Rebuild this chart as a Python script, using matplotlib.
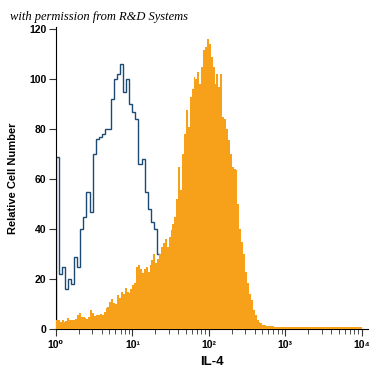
import numpy as np
import matplotlib
matplotlib.use("Agg")
import matplotlib.pyplot as plt

# bin edges in log10 units
edges_ctrl = np.linspace(0, 4, 101)   # 0.04 decade bins
edges_il4 = np.linspace(0, 4, 161)    # 0.025 decade bins

# isotype control (outline)
control = [69, 22, 25, 16, 20, 18, 29, 25, 40, 45,
           55, 47, 70, 76, 77, 78, 80, 80, 92, 100,
           102, 106, 95, 100, 90, 87, 84, 66, 68, 55,
           48, 43, 40, 30, 26, 18, 9, 3]

# IL-4 stained (filled)
il4 = [3.5, 3.6, 3, 3.5, 3, 3.4, 4.3, 3.8, 3.5, 3.6,
       4, 5.5, 6.4, 5, 4.8, 4.5, 4.2, 5, 7.6, 6.5,
       5.2, 5.7, 5.5, 6, 5.6, 7, 8.4, 9, 11, 12,
       10.5, 10, 13.6, 12.5, 15, 14, 16.4, 15, 14.5, 16,
       17.6, 18.5, 25, 25.6, 24, 22.4, 24, 25, 22.8, 25.5,
       27.6, 30, 26.4, 28, 30, 33, 34.5, 36, 33, 37,
       39.6, 42, 45, 52, 65, 55.6, 70, 78, 87.6, 81,
       93, 96, 101, 100, 103, 98, 105, 111.6, 113, 116,
       114, 109, 105, 98, 102, 97, 102, 85, 84, 80,
       75.6, 70, 65, 64, 63.6, 50, 40, 35, 30, 23,
       18.4, 14, 11.6, 7.5, 5.5, 3.6, 3, 2.2, 1.6, 1.4,
       1.2, 1.1, 1, 1, 0.9, 0.9, 0.8, 0.9, 0.8, 0.8,
       0.7, 0.8, 0.8, 0.7, 0.8, 0.8, 0.7, 0.8, 0.8, 0.8,
       0.7, 0.8, 0.7, 0.8, 0.8, 0.7, 0.8, 0.8, 0.7, 0.8,
       0.8, 0.7, 0.8, 0.8, 0.7, 0.8, 0.8, 0.7, 0.8, 0.8,
       0.7, 0.8, 0.8, 0.7, 0.8, 0.8, 0.7, 0.8, 0.8, 0.7]

yticks = [0, 20, 40, 60, 80, 100, 120]
xticks = [1, 10, 100, 1000, 10000]
xticklabels = ["10⁰", "10¹", "10²", "10³", "10⁴"]

fam = ["Liberation Sans Narrow", "Liberation Sans", "DejaVu Sans"]

fig = plt.figure(figsize=(3.75, 3.75), dpi=100)
ax = fig.add_axes([0.149, 0.1227, 0.832, 0.8053])

ax.stairs(control, 10 ** edges_ctrl[:len(control) + 1], color="#1d4a72", lw=1.0, zorder=2)
ax.stairs(il4, 10 ** edges_il4, fill=True, color="#F7A11A", lw=0, zorder=3)

ax.set_xscale("log")
ax.set_xlim(1, 10 ** 4.08)
ax.set_ylim(0, 121)

ax.spines["top"].set_visible(False)
ax.spines["right"].set_visible(False)

ax.set_yticks(yticks)
ax.set_yticklabels([str(v) for v in yticks], family=fam, fontweight="bold", fontsize=7.5)
ax.set_xticks(xticks)
ax.set_xticklabels(xticklabels, family=fam, fontweight="bold", fontsize=7.5)
ax.tick_params(axis="y", length=5, width=0.8, pad=2, color="#333333")
ax.tick_params(axis="x", which="major", length=5, width=0.8, pad=3, color="#333333")
ax.tick_params(axis="x", which="minor", length=3.5, width=0.6, color="#333333")

ax.set_xlabel("IL-4", family=fam, fontweight="bold", fontsize=9.5, labelpad=4)
ax.set_ylabel("Relative Cell Number", family=fam, fontweight="bold", fontsize=8, labelpad=8)

fig.text(0.027, 0.955, "with permission from R&D Systems", family="Liberation Serif",
         style="italic", fontsize=9, ha="left", va="center")

fig.savefig("out.png", dpi=100)
